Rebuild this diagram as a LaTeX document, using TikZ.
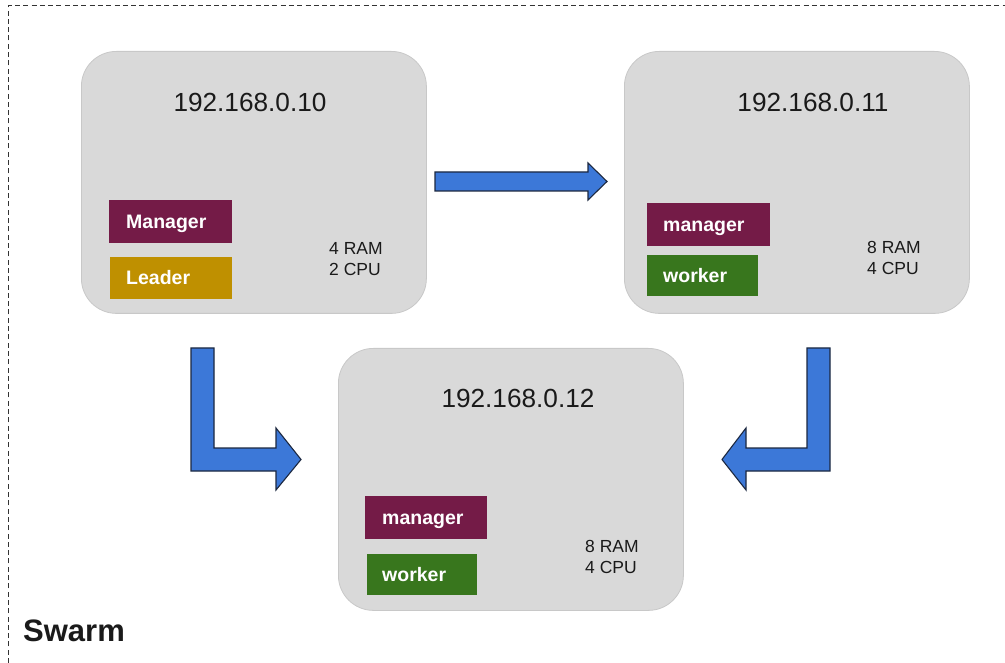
\documentclass[tikz,border=0pt]{standalone}
\usepackage{fontspec}
\setmainfont{Liberation Sans}
\definecolor{hostgray}{HTML}{D9D9D9}
\definecolor{hostedge}{HTML}{C8C8C8}
\definecolor{mgr}{HTML}{741B47}
\definecolor{lead}{HTML}{BF9000}
\definecolor{wrk}{HTML}{38761D}
\definecolor{arrowblue}{HTML}{3C78D8}
\definecolor{arrowedge}{HTML}{1C2840}
\definecolor{ink}{HTML}{1A1A1A}
\definecolor{borderink}{HTML}{333333}
\begin{document}
\begin{tikzpicture}[x=1pt,y=-1pt,
  host/.style={draw=hostedge, line width=0.8pt, fill=hostgray, rounded corners=35pt,
    minimum width=345pt, minimum height=262pt, anchor=north west, inner sep=0pt},
  ip/.style={font=\fontsize{26.2}{31}\selectfont, text=ink, inner sep=0pt},
  spec/.style={font=\fontsize{17.5}{21}\selectfont, text=ink, align=left, anchor=west, inner sep=0pt},
  tagbox/.style={anchor=north west, inner sep=0pt, minimum height=43pt},
  tagtext/.style={font=\bfseries\fontsize{19.5}{23}\selectfont, text=white, anchor=base west, inner sep=0pt},
  blockarrow/.style={fill=arrowblue, draw=arrowedge, line width=1.1pt, line join=miter},
  frame/.style={draw=borderink, line width=1pt, dash pattern=on 5pt off 3.3pt}]
\useasboundingbox (0,0) rectangle (1005,663);
\fill[white] (0,0) rectangle (1005,663);
\draw[frame] (8,663) -- (8,6) -- (1005,6);

% hosts
\node[host] (h1) at (81,51) {};
\node[host] (h2) at (624,51) {};
\node[host] (h3) at (338,348) {};

\node[ip] (ip1) at (250,102) {192.168.0.10};
\node[ip] (ip2) at (813,102) {192.168.0.11};
\node[ip] (ip3) at (518,398) {192.168.0.12};

% host 1 tags
\node[tagbox, fill=mgr, minimum width=123pt] (m1) at (109,200) {};
\node[tagtext] (m1t) at (126,228.5) {Manager};
\node[tagbox, fill=lead, minimum width=122pt, minimum height=42pt] (l1) at (110,257) {};
\node[tagtext] (l1t) at (126,285) {Leader};
\node[spec] (s1) at (329,259) {4 RAM\\2 CPU};

% host 2 tags
\node[tagbox, fill=mgr, minimum width=123pt] (m2) at (647,203) {};
\node[tagtext] (m2t) at (663,231.5) {manager};
\node[tagbox, fill=wrk, minimum width=111pt, minimum height=41pt] (w2) at (647,255) {};
\node[tagtext] (w2t) at (663,282.5) {worker};
\node[spec] (s2) at (867,258) {8 RAM\\4 CPU};

% host 3 tags
\node[tagbox, fill=mgr, minimum width=122pt] (m3) at (365,496) {};
\node[tagtext] (m3t) at (382,524.5) {manager};
\node[tagbox, fill=wrk, minimum width=110pt, minimum height=41pt] (w3) at (367,554) {};
\node[tagtext] (w3t) at (382,581.5) {worker};
\node[spec] (s3) at (585,557) {8 RAM\\4 CPU};

% block arrows
\draw[blockarrow] (435,172) -- (588,172) -- (588,163) -- (607,181.5) -- (588,200) -- (588,191) -- (435,191) -- cycle;
\draw[blockarrow] (191,348) -- (214,348) -- (214,448) -- (276,448) -- (276,428) -- (301,459.5) -- (276,490) -- (276,471) -- (191,471) -- cycle;
\draw[blockarrow] (807,448) -- (807,348) -- (830,348) -- (830,471) -- (746,471) -- (746,490) -- (722,459.5) -- (746,428) -- (746,448) -- cycle;

\node[font=\bfseries\fontsize{31}{36}\selectfont, text=ink, anchor=base west, inner sep=0pt] (swarm) at (23,641) {Swarm};
\end{tikzpicture}
\end{document}
